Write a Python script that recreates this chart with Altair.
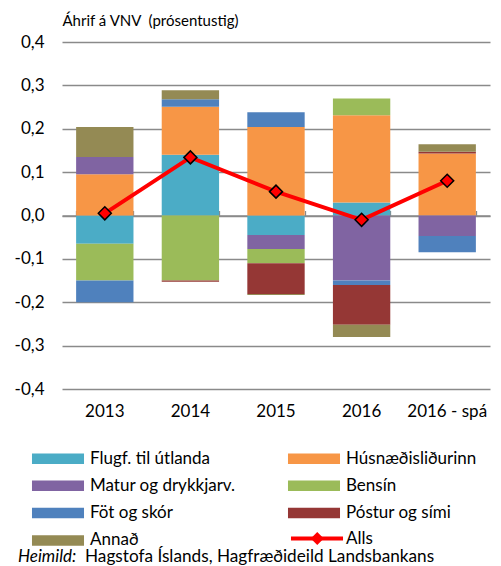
import altair as alt
import pandas as pd

years = ["2013", "2014", "2015", "2016", "2016 - spá"]
categories = ["Flugf. til útlanda", "Húsnæðisliðurinn", "Matur og drykkjarv.", "Bensín",
              "Föt og skór", "Póstur og sími", "Annað"]
colors = ["#4BACC6", "#F79646", "#8064A2", "#9BBB59", "#4F81BD", "#953735", "#948A54"]

flugf = [-0.065, 0.140, -0.045, 0.030, 0.000]
husn = [0.095, 0.111, 0.204, 0.201, 0.143]
matur = [0.040, 0.000, -0.032, -0.150, -0.047]
bensin = [-0.085, -0.150, -0.033, 0.039, 0.000]
fot = [-0.050, 0.017, 0.034, -0.010, -0.038]
postur = [0.000, -0.003, -0.071, -0.092, 0.004]
annad = [0.069, 0.021, -0.002, -0.028, 0.017]
alls = [0.005, 0.134, 0.055, -0.010, 0.080]
y_ticks = [-0.4, -0.3, -0.2, -0.1, 0.0, 0.1, 0.2, 0.3, 0.4]

series = [flugf, husn, matur, bensin, fot, postur, annad]
rows = []
for ci, (cat, vals) in enumerate(zip(categories, series)):
    for yi, yr in enumerate(years):
        if vals[yi] != 0:
            rows.append({"year": yr, "cat": cat, "value": vals[yi], "order": ci})
bars_df = pd.DataFrame(rows)
alls_df = pd.DataFrame({"year": years, "value": alls, "s1": "Alls", "s2": "Alls "})

FONT = "Lato"
FS = 17
xscale = alt.Scale(paddingInner=0.33, paddingOuter=0.165)
yscale = alt.Scale(domain=[-0.4, 0.4], nice=False)

y_axis = alt.Axis(values=y_ticks, domain=False, ticks=False, grid=True,
                  gridColor="#8a8a8a", gridWidth=1.3, labelPadding=18,
                  labelFontSize=FS, labelColor="#000", labelFont=FONT,
                  labelExpr="replace(replace(format(datum.value, '.1f'), '.', ','), '\u2212', '-')",
                  title="Áhrif á VNV\u00a0 (prósentustig)", titleAngle=0, titleAlign="left",
                  titleX=0, titleY=-22, titleBaseline="middle", titleFontSize=15,
                  titleFontWeight="normal", titleFont=FONT, titleColor="#000")

bars = alt.Chart(bars_df).mark_bar().encode(
    x=alt.X("year:N", sort=years, scale=xscale,
            axis=alt.Axis(title=None, domain=False, ticks=False, labelAngle=0,
                          labelPadding=14, labelFontSize=FS, labelColor="#000", labelFont=FONT)),
    y=alt.Y("value:Q", stack="zero", scale=yscale, axis=y_axis),
    color=alt.Color("cat:N", scale=alt.Scale(domain=categories, range=colors),
                    legend=alt.Legend(title=None, orient="none", legendX=-12.5, legendY=408,
                                      direction="horizontal", columns=2, columnPadding=52,
                                      rowPadding=9.3,
                                      symbolType="M-4.73,-0.95H4.73V0.95H-4.73Z", symbolSize=121,
                                      symbolStrokeWidth=0, labelFontSize=FS, labelFont=FONT,
                                      labelColor="#000", labelOffset=23.5, padding=0)),
    order=alt.Order("order:Q", sort="ascending"),
)

line = alt.Chart(alls_df).mark_line(strokeWidth=4).encode(
    x=alt.X("year:N", sort=years, scale=xscale,
            axis=alt.Axis(title=None, labels=False, domain=True, domainColor="#8a8a8a",
                          domainWidth=1.3, ticks=True, tickColor="#8a8a8a", tickWidth=1.3,
                          tickSize=5, tickBand="extent", offset=-173.5, grid=False)),
    y=alt.Y("value:Q", scale=yscale, axis=y_axis),
    stroke=alt.Stroke("s1:N", scale=alt.Scale(domain=["Alls"], range=["#FF0000"]),
                      legend=alt.Legend(title=None, orient="none", legendX=246.5, legendY=488,
                                        symbolType="M-4.73,0H4.73", symbolSize=121,
                                        symbolStrokeWidth=4, symbolStrokeColor="#FF0000",
                                        symbolFillColor="transparent",
                                        labelFontSize=FS, labelFont=FONT, labelColor="#000",
                                        labelOffset=20.5, padding=0, zindex=1)),
)

points = alt.Chart(alls_df).mark_point(filled=True, fill="#FF0000", stroke="#000",
                                       strokeWidth=1.5, size=169, opacity=1).encode(
    x=alt.X("year:N", sort=years, scale=xscale, axis=None),
    y=alt.Y("value:Q", scale=yscale, axis=y_axis),
    shape=alt.Shape("s2:N", scale=alt.Scale(range=["diamond"]),
                    legend=alt.Legend(title=None, orient="none", legendX=246.75, legendY=488,
                                      symbolSize=169, symbolFillColor="#FF0000",
                                      symbolStrokeColor="#000", symbolStrokeWidth=1.5,
                                      labelExpr="''", labelOpacity=0, labelFontSize=FS,
                                      padding=0, zindex=2)),
)

src1 = alt.Chart(pd.DataFrame({"t": ["Heimild:"]})).mark_text(
    align="left", baseline="alphabetic", fontSize=17, font=FONT, fontStyle="italic", color="#000"
).encode(text="t:N", x=alt.value(-44), y=alt.value(520))

src2 = alt.Chart(pd.DataFrame({"t": ["Hagstofa Íslands, Hagfræðideild Landsbankans"]})).mark_text(
    align="left", baseline="alphabetic", fontSize=17.2, font=FONT, color="#000"
).encode(text="t:N", x=alt.value(23), y=alt.value(520))

chart = alt.layer(bars, line, points, src1, src2).resolve_axis(x="independent").properties(
    width=428, height=347,
    autosize=alt.AutoSizeParams(type="none"),
    padding={"left": 54, "top": 34, "right": 3, "bottom": 176},
).configure(font=FONT).configure_view(stroke=None)

chart.save("out.html", embed_options={"renderer": "svg", "actions": False})
